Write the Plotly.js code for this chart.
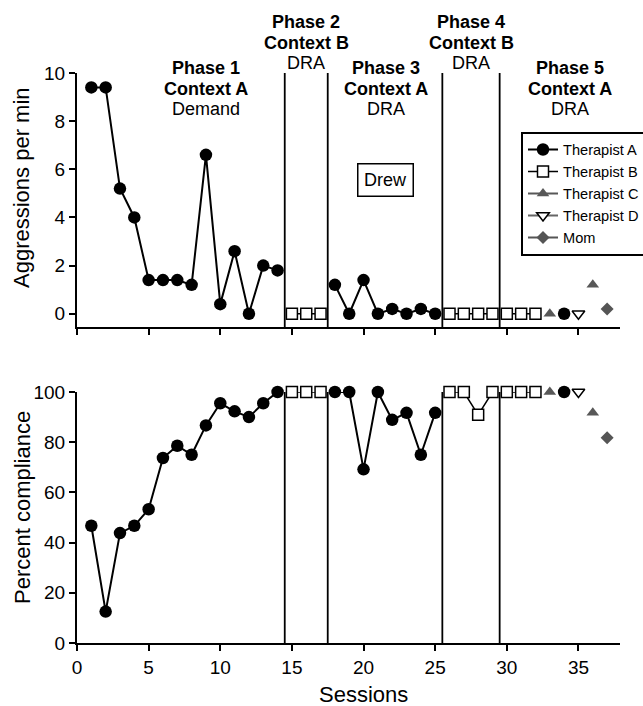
<!DOCTYPE html>
<html>
<head>
<meta charset="utf-8">
<script src="https://cdn.plot.ly/plotly-3.0.1.min.js"></script>
<style>html,body{margin:0;padding:0;background:#fff;}#chart{width:643px;height:706px;}</style>
</head>
<body>
<div id="chart"></div>
<script>
// ---- Data ----
const sessions = [1,2,3,4,5,6,7,8,9,10,11,12,13,14,15,16,17,18,19,20,21,22,23,24,25,26,27,28,29,30,31,32,33,34,35,36,37];
const therapist = ['Therapist A','Therapist A','Therapist A','Therapist A','Therapist A','Therapist A','Therapist A','Therapist A','Therapist A','Therapist A','Therapist A','Therapist A','Therapist A','Therapist A',
  'Therapist B','Therapist B','Therapist B',
  'Therapist A','Therapist A','Therapist A','Therapist A','Therapist A','Therapist A','Therapist A','Therapist A',
  'Therapist B','Therapist B','Therapist B','Therapist B',
  'Therapist B','Therapist B','Therapist B','Therapist C','Therapist A','Therapist D','Therapist C','Mom'];
const phase = [1,1,1,1,1,1,1,1,1,1,1,1,1,1, 2,2,2, 3,3,3,3,3,3,3,3, 4,4,4,4, 5,5,5,5,5,5,5,5];
const aggressions = [9.4,9.4,5.2,4.0,1.4,1.4,1.4,1.2,6.6,0.4,2.6,0,2.0,1.8,
  0,0,0,
  1.2,0,1.4,0,0.2,0,0.2,0,
  0,0,0,0,
  0,0,0,0,0,0,1.2,0.2];
const compliance = [46.7,12.5,43.8,46.7,53.3,73.7,78.6,75,86.7,95.5,92.3,90,95.5,100,
  100,100,100,
  100,100,69.2,100,88.9,91.7,75,91.7,
  100,100,90.9,100,
  100,100,100,100,100,100,91.7,81.8];
const seriesNames = ['Therapist A','Therapist B','Therapist C','Therapist D','Mom'];
const phaseChanges = [14.5, 17.5, 25.5, 29.5];
const phaseTitles = ['Phase 1','Phase 2','Phase 3','Phase 4','Phase 5'];
const phaseContexts = ['Context A','Context B','Context A','Context B','Context A'];
const phaseConditions = ['Demand','DRA','DRA','DRA','DRA'];
const xTickVals = [0,5,10,15,20,25,30,35];
const xTickText = ['0','5','10','15','20','25','30','35'];

// ---- Styles ----
const styles = {
  'Therapist A': {marker:{symbol:'circle', size:12.5, color:'#000'}, line:{color:'#000', width:2}},
  'Therapist B': {marker:{symbol:'square', size:11, color:'#fff', line:{color:'#000', width:1.5}}, line:{color:'#000', width:1.5}},
  'Therapist C': {marker:{symbol:'triangle-up', size:11, color:'#585858'}, line:{color:'#585858', width:2}},
  'Therapist D': {marker:{symbol:'triangle-down', size:11, color:'#fff', line:{color:'#000', width:1.5}}, line:{color:'#666', width:2}},
  'Mom': {marker:{symbol:'diamond', size:10, color:'#555'}, line:{color:'#555', width:2}}
};
// phase label positions (session units for x, pixel rows for y)
const phaseLabelX = [9.0, 16.0, 21.6, 27.5, 34.4];
const phaseLabelTop = [68, 22, 68, 22, 68];

function buildSeries(name, values) {
  const xs = [], ys = [];
  let prev = null;
  for (let i = 0; i < sessions.length; i++) {
    if (therapist[i] !== name) continue;
    if (prev !== null && !(sessions[i] === sessions[prev] + 1 && phase[i] === phase[prev])) {
      xs.push(null); ys.push(null);
    }
    xs.push(sessions[i]); ys.push(values[i]);
    prev = i;
  }
  return {xs, ys};
}

const traces = [];
seriesNames.forEach(name => {
  const top = buildSeries(name, aggressions);
  traces.push({
    type:'scatter', mode:'lines+markers', name:name, legendgroup:name,
    x:top.xs, y:top.ys, xaxis:'x', yaxis:'y', connectgaps:false, cliponaxis:false,
    marker:styles[name].marker, line:styles[name].line, showlegend:true
  });
});
seriesNames.forEach(name => {
  const bot = buildSeries(name, compliance);
  traces.push({
    type:'scatter', mode:'lines+markers', name:name, legendgroup:name,
    x:bot.xs, y:bot.ys, xaxis:'x2', yaxis:'y2', connectgaps:false, cliponaxis:false,
    marker:styles[name].marker, line:styles[name].line, showlegend:false
  });
});

// Geometry helpers
const M = {l:77, r:23, t:73, b:63};
const W = 643, H = 706;
const plotH = H - M.t - M.b, plotW = W - M.l - M.r;
const py = px => (H - M.b - px) / plotH;
const pxX = px => (px - M.l) / plotW;

const shapes = [];
phaseChanges.forEach(xc => {
  shapes.push({type:'line', xref:'x', yref:'y', x0:xc, x1:xc, y0:-0.55, y1:10, line:{color:'#000', width:1.8}, layer:'below'});
  shapes.push({type:'line', xref:'x2', yref:'y2', x0:xc, x1:xc, y0:0, y1:100, line:{color:'#000', width:1.8}, layer:'below'});
});

const annotations = [];
phaseTitles.forEach((t, i) => {
  const rows = ['<b>' + t + '</b>', '<b>' + phaseContexts[i] + '</b>', phaseConditions[i]];
  rows.forEach((r, k) => {
    annotations.push({xref:'x', yref:'paper', x:phaseLabelX[i], y:py(phaseLabelTop[i] + k*20.7),
      text:r, showarrow:false, xanchor:'center', yanchor:'middle', font:{size:18, color:'#000'}});
  });
});
annotations.push({xref:'x', yref:'paper', x:21.55, y:py(180), text:'Drew', showarrow:false,
  xanchor:'center', yanchor:'middle', font:{size:18, color:'#000'}, bordercolor:'#000', borderwidth:1.5, borderpad:5.5, bgcolor:'#fff'});
annotations.push({xref:'paper', yref:'paper', x:pxX(22), y:py(188), text:'Aggressions per min', textangle:-90,
  showarrow:false, xanchor:'center', yanchor:'middle', font:{size:22, color:'#000'}});
annotations.push({xref:'paper', yref:'paper', x:pxX(22), y:py(508), text:'Percent compliance', textangle:-90,
  showarrow:false, xanchor:'center', yanchor:'middle', font:{size:22, color:'#000'}});
annotations.push({xref:'paper', yref:'paper', x:pxX(363), y:py(694), text:'Sessions',
  showarrow:false, xanchor:'center', yanchor:'middle', font:{size:22, color:'#000'}});

const axCommon = {showgrid:false, zeroline:false, showline:true, linewidth:2, linecolor:'#000',
  ticks:'outside', ticklen:6, tickwidth:2, tickcolor:'#000', tickfont:{size:19, color:'#000'}};

const layout = {
  width:W, height:H,
  margin:{l:M.l, r:M.r, t:M.t, b:M.b, autoexpand:false},
  paper_bgcolor:'#fff', plot_bgcolor:'#fff',
  font:{family:'"Liberation Sans", Arial, Helvetica, sans-serif', color:'#000'},
  showlegend:true,
  legend:{x:pxX(521), y:py(131.5), xanchor:'left', yanchor:'top', bgcolor:'#fff', bordercolor:'#000', borderwidth:2,
    font:{size:14.6, color:'#000'}, tracegroupgap:0},
  xaxis:Object.assign({}, axCommon, {domain:[0,1], anchor:'y', range:[0,37.9], tickvals:xTickVals, ticktext:xTickText, showticklabels:false}),
  yaxis:Object.assign({}, axCommon, {domain:[py(327),1], anchor:'x', range:[-0.55,10], tickvals:[0,2,4,6,8,10]}),
  xaxis2:Object.assign({}, axCommon, {domain:[0,1], anchor:'y2', range:[0,37.9], tickvals:xTickVals, ticktext:xTickText}),
  yaxis2:Object.assign({}, axCommon, {domain:[0,py(392)], anchor:'x2', range:[0,100], tickvals:[0,20,40,60,80,100]}),
  shapes:shapes,
  annotations:annotations
};

Plotly.newPlot('chart', traces, layout, {displayModeBar:false, staticPlot:true});
</script>
</body>
</html>
